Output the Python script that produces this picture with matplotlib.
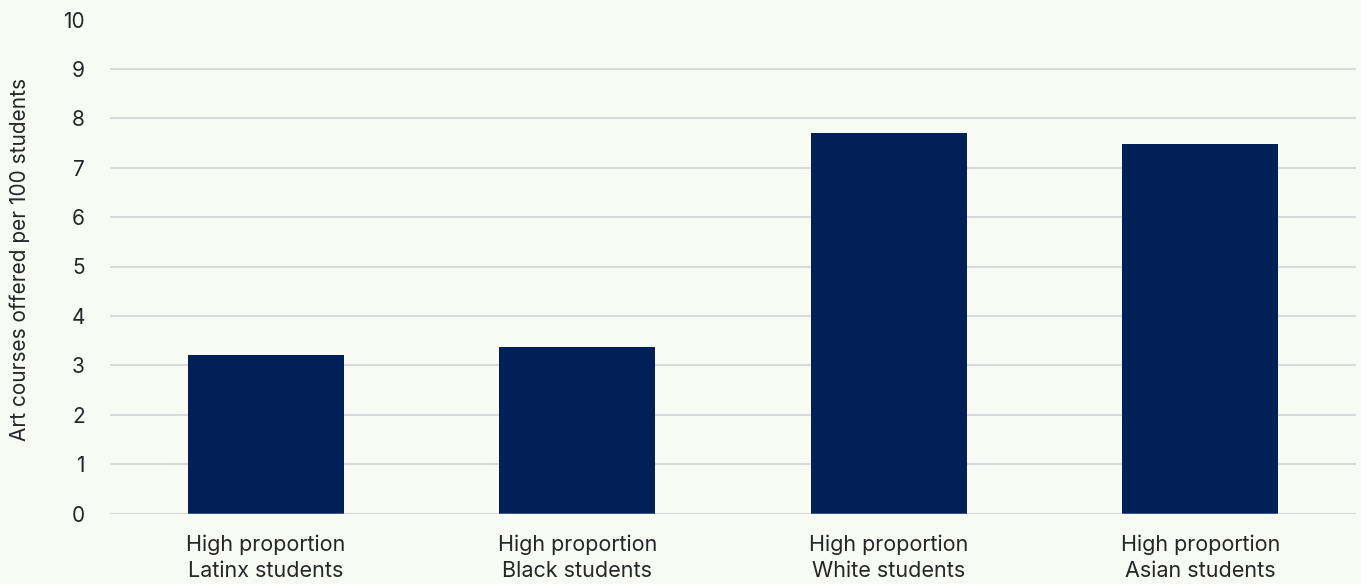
import matplotlib.pyplot as plt

# Art course availability by school racial composition
categories = [
    "High proportion\nLatinx students",
    "High proportion\nBlack students",
    "High proportion\nWhite students",
    "High proportion\nAsian students",
]
courses_per_100 = [3.21, 3.37, 7.70, 7.48]
y_ticks = list(range(0, 11))

bg = "#f8faf4"
bar_color = "#002057"
text_color = "#262626"

plt.rcParams["font.family"] = ["Inter", "DejaVu Sans"]

fig = plt.figure(figsize=(13.61, 5.84), dpi=100, facecolor=bg)
ax = fig.add_axes([110 / 1361, 1 - 513.5 / 584, 1246 / 1361, 494 / 584])
ax.set_facecolor(bg)

x = list(range(len(categories)))
width = 0.5
ax.bar(x, courses_per_100, width=width, color=bar_color, zorder=3)
# thin lighter rule along the foot of each bar
ax.hlines([0] * len(x), [i - width / 2 for i in x], [i + width / 2 for i in x],
          color="#4a6192", lw=1.2, zorder=4)

ax.set_xlim(-0.5, 3.5)
ax.set_ylim(0, 10)
ax.set_yticks(y_ticks)
ax.set_xticks(x)
ax.set_xticklabels(categories, fontsize=15.5, color=text_color, linespacing=1.38)
ax.tick_params(axis="y", labelsize=15, labelcolor=text_color, length=0, pad=18)
ax.tick_params(axis="x", length=0, pad=15)
ax.grid(axis="y", color="#d9d9d9", lw=1.5, zorder=0)
for side in ax.spines.values():
    side.set_visible(False)

ax.set_ylabel("Art courses offered per 100 students", fontsize=15,
              color=text_color)
ax.yaxis.set_label_coords(-80 / 1246, 0.515)

fig.savefig("out.png", dpi=100, facecolor=bg)
